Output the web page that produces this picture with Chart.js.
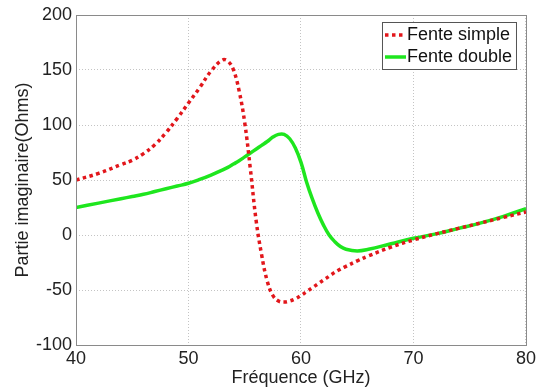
<!DOCTYPE html>
<html>
<head>
<meta charset="utf-8">
<script src="https://cdn.jsdelivr.net/npm/chart.js@4/dist/chart.umd.min.js"></script>
<style>
  body { margin: 0; background: #fff; }
</style>
</head>
<body>
<canvas id="impChart" width="539" height="389"></canvas>
<script>
// frequency points (GHz)
const freq = [40, 42, 44, 45, 46, 47, 48, 49, 50, 51, 52, 53, 53.5, 54, 54.5, 55, 55.5, 56, 56.5, 57, 57.5, 58, 58.5, 59, 59.5, 60, 60.5, 61, 61.5, 62, 62.5, 63, 63.5, 64, 65, 66, 68, 70, 72, 74, 76, 78, 80];
// imaginary part (Ohms)
const fenteSimple = [50, 56, 64, 68, 74, 82, 93, 106, 120, 134, 149, 159, 158, 150, 131, 102, 60, 14, -18, -42, -55, -60, -61, -60, -58, -55, -51.5, -48, -44.5, -41, -37.5, -34, -31, -28.5, -23.5, -19, -11, -4.5, 1, 6, 11, 16, 21];
const fenteDouble = [25, 29, 33, 35, 37, 39.5, 42, 44.5, 47, 50.5, 54.5, 59, 61.5, 64.5, 67.5, 71, 74.5, 78, 81.5, 85, 89, 91.5, 91.5, 87.5, 79, 66, 48, 33, 20, 9, 0, -6, -10.5, -13, -14.5, -13, -8, -3, 1, 6, 11, 17, 24];
const xTicks = [40, 50, 60, 70, 80];
const yTicks = [-100, -50, 0, 50, 100, 150, 200];

const font = { family: 'Liberation Sans, Arial, sans-serif', size: 18 };

function pts(ys) {
  return freq.map((f, i) => ({ x: f, y: ys[i] }));
}

// box around the plot area + legend in the top right corner
const framePlugin = {
  id: 'frame',
  afterDraw(chart) {
    const ctx = chart.ctx;
    const a = chart.chartArea;
    ctx.save();
    ctx.strokeStyle = '#8a8a8a';
    ctx.lineWidth = 1;
    ctx.strokeRect(a.left + 0.5, a.top + 0.5, a.right - a.left, a.bottom - a.top);

    // legend
    const w = 134, h = 47;
    const lx = a.right - 144, ly = a.top + 7;
    ctx.fillStyle = '#fff';
    ctx.fillRect(lx, ly, w, h);
    ctx.strokeStyle = '#555';
    ctx.strokeRect(lx + 0.5, ly + 0.5, w, h);
    ctx.font = '18px ' + font.family;
    ctx.textBaseline = 'middle';
    chart.data.datasets.forEach((ds, i) => {
      const y = ly + 13 + i * 22;
      ctx.strokeStyle = ds.borderColor;
      ctx.lineWidth = ds.borderWidth;
      ctx.setLineDash(ds.borderDash || []);
      ctx.beginPath();
      ctx.moveTo(lx + 3, y);
      ctx.lineTo(lx + 24, y);
      ctx.stroke();
      ctx.setLineDash([]);
      ctx.fillStyle = '#111';
      ctx.fillText(ds.label, lx + 25, y);
    });
    ctx.restore();
  }
};

new Chart(document.getElementById('impChart'), {
  type: 'line',
  data: {
    datasets: [{
      label: 'Fente simple',
      data: pts(fenteSimple),
      borderColor: '#e2161b',
      borderWidth: 3.5,
      borderDash: [3.5, 3.5],
      pointRadius: 0,
      tension: 0.4,
      fill: false
    }, {
      label: 'Fente double',
      data: pts(fenteDouble),
      borderColor: '#1ee61e',
      borderWidth: 3.5,
      pointRadius: 0,
      tension: 0.4,
      fill: false
    }]
  },
  options: {
    responsive: false,
    animation: false,
    layout: { padding: { top: 15, right: 12, left: 0, bottom: 0 } },
    plugins: { legend: { display: false }, tooltip: { enabled: false } },
    scales: {
      x: {
        type: 'linear',
        min: 40, max: 80,
        afterBuildTicks: s => { s.ticks = xTicks.map(v => ({ value: v })); },
        afterFit: s => { s.height = 44; },
        grid: { color: '#c4c4c4', drawTicks: false },
        border: { display: false, dash: [1, 2] },
        ticks: { font: font, color: '#222', padding: 3, maxRotation: 0 },
        title: { display: true, text: 'Fréquence (GHz)', font: font, color: '#222', padding: { top: 0, bottom: 0 } }
      },
      y: {
        min: -100, max: 200,
        afterBuildTicks: s => { s.ticks = yTicks.map(v => ({ value: v })); },
        afterFit: s => { s.width = 76; },
        grid: { color: '#c4c4c4', drawTicks: false },
        border: { display: false, dash: [1, 2] },
        ticks: { font: font, color: '#222', padding: 4 },
        title: { display: true, text: 'Partie imaginaire(Ohms)', font: font, color: '#222', padding: { top: 12, bottom: 0 } }
      }
    }
  },
  plugins: [framePlugin]
});
</script>
</body>
</html>
